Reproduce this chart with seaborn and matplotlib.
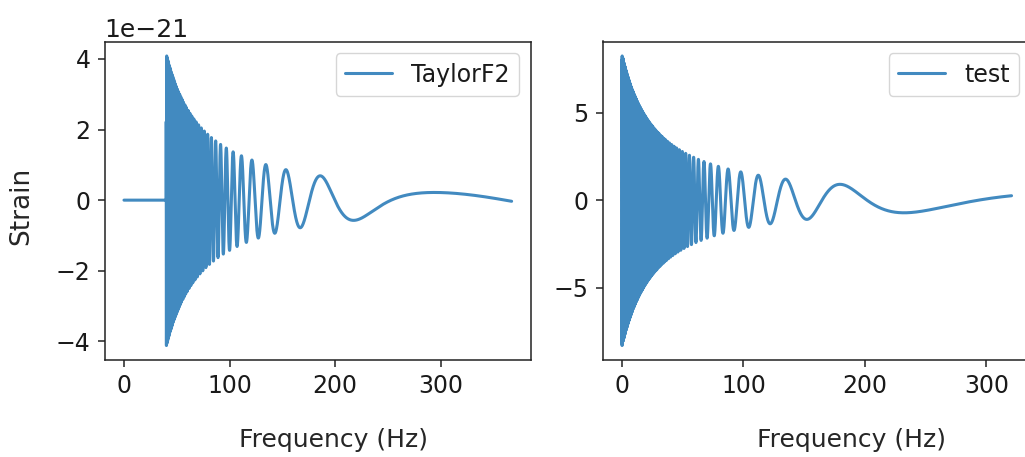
import numpy as np
import pandas as pd
import matplotlib
matplotlib.use("Agg")
import matplotlib.pyplot as plt
import seaborn as sns

# ---------------- data ----------------
# Left panel ("TaylorF2"), strain in units of 1e-21
left_label = "TaylorF2"
left_f_lower = 40.0          # waveform starts here (zero below)
left_f_end = 367.0           # last frequency sample
left_amp_start = 4.14        # envelope amplitude at f_lower (x1e-21)
left_ext_freq = [96.3, 99.9, 103.7, 107.4, 111.7, 116.4, 121.1, 127.3, 133.1,
                 143.0, 152.9, 166.5, 185.3, 219.8, 301.0, 336.0, 367.0]
left_ext_phase = [12, 11, 10, 9, 8, 7, 6, 5, 4, 3, 2, 1, 0, -1,
                  -1.631, -1.604, -1.5]          # phase in units of pi

# Right panel ("test")
right_label = "test"
right_f_lower = 0.0
right_f_end = 320.8
right_amp_start = 8.3
right_f_shift = 32.2
right_ext_freq = [72.9, 79.1, 83.3, 87.4, 92.1, 98.0, 104.4, 112.0, 121.6,
                  135.0, 152.3, 183.8, 230.4, 277.0, 320.8]
right_ext_phase = [12, 10, 9, 8, 7, 6, 5, 4, 3, 2, 1, 0, -1, -1.42, -1.649]

x_ticks = [0, 100, 200, 300]
x_label = "Frequency (Hz)"
y_label = "Strain"


def chirp(f_end, f_lower, shift, amp0, ext_f, ext_ph, scale, powers):
    f = np.linspace(0.0, f_end, int(f_end / 0.01) + 1)
    g = f + shift
    basis = lambda x: np.column_stack([(x / 100.0) ** p for p in powers])
    eg = np.asarray(ext_f) + shift
    coef, *_ = np.linalg.lstsq(basis(eg), np.pi * np.asarray(ext_ph), rcond=None)
    g0 = f_lower + shift
    gg = np.maximum(g, g0)
    phase = basis(gg) @ coef
    amp = amp0 * (gg / g0) ** (-7 / 6)
    h = amp * np.cos(phase)
    h[f < f_lower] = 0.0
    return pd.DataFrame({"Frequency": f, "Strain": h * scale})


left_df = chirp(left_f_end, left_f_lower, 0.0, left_amp_start,
                left_ext_freq, left_ext_phase, 1e-21, [0.0, 1.0, 2.0, -5 / 3])
right_df = chirp(right_f_end, right_f_lower, right_f_shift, right_amp_start,
                 right_ext_freq, right_ext_phase, 1.0, [0.0, 1.0, -5 / 3, -1.0])

# ---------------- style ----------------
sns.set_theme(style="ticks")
FS = 17
LFS = 18
plt.rcParams.update({
    "font.family": ["DejaVu Sans"],
    "font.size": FS,
    "axes.labelsize": LFS,
    "xtick.labelsize": FS,
    "ytick.labelsize": FS,
    "legend.fontsize": FS,
    "axes.linewidth": 1.1,
    "xtick.major.size": 5,
    "ytick.major.size": 5,
    "xtick.major.width": 1.1,
    "ytick.major.width": 1.1,
    "xtick.major.pad": 5,
    "ytick.major.pad": 5,
    "axes.edgecolor": "#222222",
    "text.color": "#1a1a1a",
    "xtick.color": "#222222",
    "ytick.color": "#222222",
    "xtick.labelcolor": "#1a1a1a",
    "ytick.labelcolor": "#1a1a1a",
})
LINE = "#428ac0"

W, H = 1025, 457
fig = plt.figure(figsize=(W / 100, H / 100), dpi=100)
ax1 = fig.add_axes([104.6 / W, (H - 360) / H, 426.4 / W, 318.5 / H])
ax2 = fig.add_axes([602.6 / W, (H - 360) / H, 428.4 / W, 318.5 / H])

for ax, df, lab in [(ax1, left_df, left_label), (ax2, right_df, right_label)]:
    sns.lineplot(data=df, x="Frequency", y="Strain", ax=ax, color=LINE,
                 linewidth=2.2, estimator=None, sort=False, label=lab)
    ax.set_xticks(x_ticks)
    ax.set_xlabel(x_label)
    ax.set_ylabel("")
    ax.legend(loc="upper right", fancybox=True)

ax1.set_ylabel(y_label, fontsize=19)
ax1.yaxis.get_offset_text().set_fontsize(18)
ax1.xaxis.set_label_coords(0.5357, -0.212)
ax2.xaxis.set_label_coords(0.582, -0.212)
ax1.yaxis.set_label_coords(-0.165, 0.4835)

fig.savefig("out.png", dpi=100)
